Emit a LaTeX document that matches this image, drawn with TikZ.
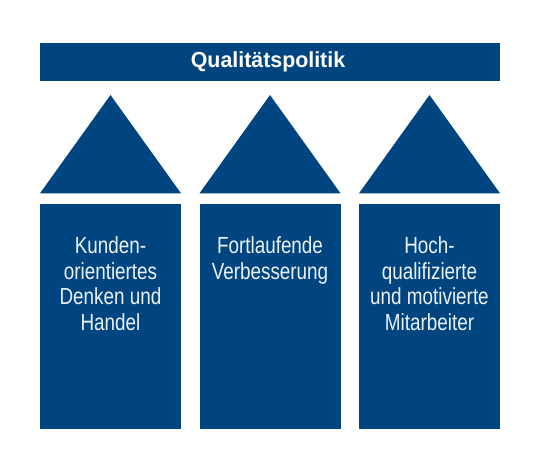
\documentclass[tikz,border=0pt]{standalone}
\usepackage{fontspec}
\setmainfont{Liberation Sans}[FakeStretch=0.81]
\newfontfamily\qtitlefont{Liberation Sans Bold}[FakeStretch=0.98]
\definecolor{qblue}{RGB}{0,69,128}
\definecolor{qtext}{RGB}{236,241,246}
\tikzset{
  pillar/.style={fill=qblue, draw=none, inner sep=0pt, minimum width=141pt, minimum height=224.3pt, anchor=north west},
  roofshape/.style={fill=qblue, draw=none},
  pillartext/.style={text=qtext, font=\fontsize{23.3}{25.7}\selectfont, align=center, inner sep=0pt, anchor=north},
  titletext/.style={text=white, font=\qtitlefont\fontsize{21.8}{26}\selectfont, inner sep=0pt, anchor=base}
}
\begin{document}
\begin{tikzpicture}[x=1pt,y=-1pt]
\useasboundingbox (0,0) rectangle (540,462);
% top bar
\node[fill=qblue, inner sep=0pt, minimum width=460pt, minimum height=38pt, anchor=north west] (bar) at (40,42.7) {};
\node[titletext] (title) at (268,67.3) {Qualitätspolitik};
% roofs
\fill[roofshape] (40,193.3) -- (110.5,95) -- (181,193.3) -- cycle;
\fill[roofshape] (199.5,193.3) -- (270,95) -- (340.5,193.3) -- cycle;
\fill[roofshape] (359,193.3) -- (429.5,95) -- (500,193.3) -- cycle;
% pillars
\node[pillar] (p1) at (40,204) {};
\node[pillar] (p2) at (199.5,204) {};
\node[pillar] (p3) at (359,204) {};
% texts
\node[pillartext] (t1) at (110.5,236.3) {Kunden-\\orientiertes\\Denken und\\Handel};
\node[pillartext] (t2) at (270,236.3) {Fortlaufende\\Verbesserung};
\node[pillartext] (t3) at (429.5,236.3) {Hoch-\\qualifizierte\\und motivierte\\Mitarbeiter};
\end{tikzpicture}
\end{document}
